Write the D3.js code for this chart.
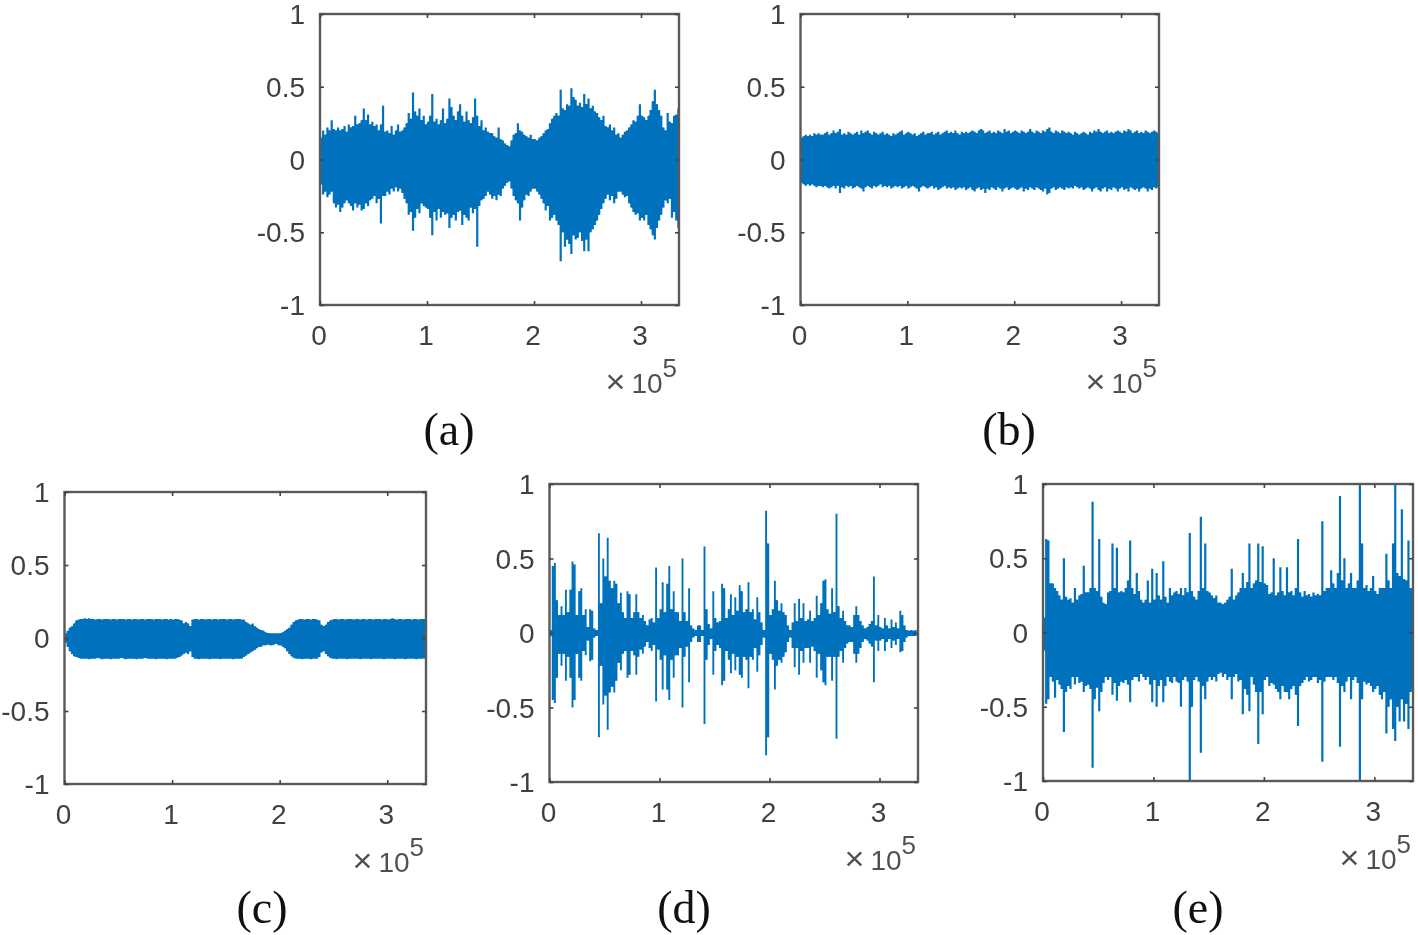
<!DOCTYPE html>
<html><head><meta charset="utf-8">
<script src="https://cdnjs.cloudflare.com/ajax/libs/d3/7.8.5/d3.min.js"></script>
<style>
html,body{margin:0;padding:0;background:#fff}
svg{display:block;filter:blur(0.6px)}
.tk{font-family:"Liberation Sans",Arial,sans-serif;font-size:28px;fill:#404040}
.cap{font-family:"Liberation Serif","Times New Roman",serif;font-size:46px;fill:#111}
</style></head><body>
<svg id="c" width="1418" height="935"></svg>
<script>
// each value is the peak of one column of the waveform; columns are 0.02 x 10^5 samples wide
const xTicks=[0,1,2,3], yTicks=[-1,-0.5,0,0.5,1], yTickLabels=["-1","-0.5","0","0.5","1"];
const captions=["(a)","(b)","(c)","(d)","(e)"];
const columnWidth=0.02;

const aUp=[.15,.2,.17,.22,.2,.27,.21,.2,.22,.2,
.21,.23,.19,.24,.22,.23,.3,.24,.25,.27,
.35,.27,.31,.24,.26,.23,.24,.2,.24,.37,
.19,.2,.18,.23,.17,.2,.24,.19,.2,.22,
.25,.32,.28,.46,.33,.3,.35,.27,.3,.24,
.26,.3,.45,.26,.28,.24,.27,.35,.25,.28,
.42,.36,.3,.27,.33,.38,.3,.26,.33,.27,
.25,.29,.42,.3,.23,.27,.2,.22,.19,.18,
.18,.16,.15,.22,.14,.13,.11,.1,.09,.13,
.17,.18,.25,.2,.19,.17,.16,.15,.17,.14,
.14,.13,.15,.16,.18,.2,.21,.25,.28,.3,
.32,.3,.48,.35,.34,.38,.37,.49,.43,.41,
.37,.39,.36,.45,.38,.42,.35,.37,.33,.32,
.29,.27,.3,.23,.22,.24,.2,.22,.17,.18,
.15,.17,.19,.2,.22,.24,.27,.26,.3,.38,
.3,.29,.27,.3,.34,.4,.48,.38,.34,.3,
.22,.2,.32,.26,.25,.3,.31,.35];
const aLo=[-.17,-.24,-.22,-.26,-.24,-.22,-.3,-.33,-.31,-.36,
-.33,-.3,-.28,-.3,-.32,-.35,-.3,-.33,-.31,-.35,
-.34,-.3,-.32,-.28,-.27,-.25,-.3,-.27,-.44,-.25,
-.25,-.22,-.24,-.2,-.22,-.19,-.22,-.2,-.23,-.27,
-.3,-.38,-.36,-.49,-.4,-.34,-.37,-.3,-.32,-.33,
-.34,-.4,-.52,-.36,-.42,-.34,-.4,-.36,-.38,-.37,
-.47,-.4,-.38,-.42,-.36,-.35,-.45,-.38,-.4,-.42,
-.33,-.37,-.34,-.6,-.32,-.28,-.27,-.25,-.22,-.24,
-.27,-.25,-.28,-.24,-.25,-.2,-.18,-.16,-.15,-.2,
-.25,-.28,-.3,-.42,-.33,-.28,-.24,-.25,-.22,-.2,
-.2,-.22,-.24,-.27,-.3,-.35,-.32,-.42,-.4,-.38,
-.42,-.45,-.7,-.5,-.6,-.55,-.58,-.65,-.52,-.55,
-.54,-.5,-.56,-.63,-.55,-.63,-.5,-.48,-.45,-.42,
-.38,-.34,-.3,-.27,-.24,-.28,-.25,-.3,-.27,-.22,
-.22,-.24,-.26,-.25,-.3,-.33,-.36,-.38,-.37,-.42,
-.4,-.42,-.38,-.45,-.48,-.52,-.55,-.47,-.42,-.38,
-.33,-.28,-.3,-.27,-.4,-.36,-.42,-.47];

const bUp=[.15,.16,.17,.16,.17,.16,.18,.17,.18,.17,
.17,.18,.19,.17,.18,.2,.18,.19,.21,.17,
.18,.17,.19,.18,.17,.18,.19,.17,.2,.18,
.19,.2,.18,.17,.19,.18,.17,.18,.19,.17,
.18,.17,.16,.18,.17,.18,.19,.2,.17,.18,
.19,.18,.17,.18,.16,.17,.18,.19,.17,.18,
.18,.19,.17,.18,.19,.17,.18,.19,.2,.18,
.19,.18,.2,.18,.17,.19,.18,.19,.18,.19,
.2,.19,.18,.2,.21,.2,.18,.19,.2,.18,
.19,.18,.2,.19,.18,.21,.19,.2,.18,.19,
.2,.19,.18,.2,.19,.18,.19,.21,.19,.18,
.2,.19,.18,.2,.19,.21,.22,.19,.18,.2,
.19,.18,.2,.19,.18,.19,.18,.17,.19,.18,
.17,.18,.19,.18,.17,.19,.18,.2,.19,.21,
.19,.18,.19,.2,.18,.19,.18,.19,.2,.19,
.18,.2,.19,.21,.2,.18,.19,.2,.18,.19,
.18,.2,.19,.18,.19,.2,.19,.18];
const bLo=[-.16,-.17,-.18,-.17,-.18,-.17,-.18,-.19,-.18,-.18,
-.19,-.18,-.19,-.2,-.19,-.18,-.2,-.18,-.23,-.19,
-.2,-.18,-.19,-.18,-.2,-.19,-.18,-.19,-.2,-.22,
-.19,-.18,-.19,-.2,-.18,-.19,-.18,-.17,-.19,-.18,
-.19,-.18,-.2,-.19,-.18,-.19,-.18,-.2,-.19,-.18,
-.2,-.19,-.18,-.19,-.2,-.22,-.19,-.18,-.19,-.2,
-.19,-.18,-.2,-.19,-.21,-.2,-.19,-.18,-.2,-.19,
-.2,-.19,-.21,-.2,-.19,-.2,-.19,-.21,-.2,-.19,
-.21,-.22,-.2,-.19,-.21,-.2,-.23,-.2,-.21,-.19,
-.2,-.21,-.19,-.2,-.22,-.2,-.19,-.21,-.2,-.19,
-.2,-.21,-.2,-.19,-.22,-.2,-.21,-.19,-.2,-.21,
-.19,-.2,-.21,-.22,-.2,-.24,-.23,-.2,-.19,-.21,
-.2,-.19,-.2,-.21,-.19,-.2,-.19,-.2,-.18,-.19,
-.2,-.19,-.21,-.2,-.19,-.2,-.22,-.2,-.19,-.21,
-.22,-.2,-.19,-.22,-.2,-.21,-.19,-.2,-.22,-.2,
-.19,-.21,-.2,-.22,-.19,-.2,-.21,-.2,-.22,-.2,
-.19,-.2,-.22,-.2,-.21,-.19,-.2,-.19];

const cUp=[.03,.05,.07,.08,.1,.12,.125,.13,.13,.135,
.13,.135,.13,.13,.125,.13,.13,.125,.13,.13,
.13,.125,.13,.13,.125,.13,.13,.13,.125,.13,
.13,.125,.13,.13,.125,.13,.13,.125,.13,.13,
.13,.125,.13,.13,.13,.125,.13,.13,.125,.13,
.125,.13,.13,.125,.12,.1,.11,.1,.08,.125,
.13,.13,.125,.13,.13,.125,.13,.13,.125,.13,
.13,.125,.13,.13,.13,.125,.13,.13,.125,.13,
.13,.13,.125,.125,.11,.1,.09,.1,.08,.07,
.06,.055,.05,.04,.035,.03,.03,.03,.03,.03,
.035,.04,.05,.06,.07,.09,.11,.12,.125,.13,
.13,.125,.13,.13,.125,.13,.13,.125,.12,.09,
.08,.09,.11,.12,.125,.13,.13,.125,.13,.13,
.125,.13,.13,.13,.125,.13,.13,.125,.13,.13,
.125,.13,.13,.125,.13,.13,.13,.125,.13,.13,
.125,.13,.135,.13,.125,.13,.13,.125,.13,.13,
.13,.125,.13,.13,.125,.13,.13,.13];
const cLo=[-.03,-.06,-.09,-.11,-.125,-.13,-.135,-.14,-.14,-.14,
-.14,-.145,-.14,-.14,-.14,-.135,-.14,-.145,-.14,-.14,
-.14,-.145,-.14,-.14,-.14,-.14,-.135,-.14,-.145,-.14,
-.14,-.14,-.14,-.145,-.14,-.14,-.14,-.135,-.14,-.14,
-.14,-.14,-.145,-.14,-.14,-.14,-.14,-.145,-.14,-.14,
-.14,-.14,-.135,-.13,-.12,-.11,-.1,-.11,-.09,-.13,
-.14,-.14,-.145,-.14,-.14,-.14,-.14,-.145,-.14,-.14,
-.14,-.14,-.145,-.14,-.14,-.14,-.14,-.14,-.145,-.14,
-.14,-.14,-.14,-.13,-.12,-.11,-.1,-.09,-.08,-.07,
-.06,-.06,-.05,-.05,-.045,-.05,-.05,-.045,-.04,-.05,
-.05,-.06,-.07,-.09,-.11,-.125,-.135,-.14,-.14,-.14,
-.145,-.14,-.14,-.14,-.145,-.14,-.14,-.14,-.13,-.1,
-.09,-.11,-.125,-.135,-.14,-.14,-.145,-.14,-.14,-.14,
-.14,-.145,-.14,-.14,-.14,-.14,-.14,-.145,-.14,-.14,
-.14,-.14,-.145,-.14,-.14,-.14,-.14,-.14,-.145,-.14,
-.14,-.14,-.14,-.145,-.14,-.14,-.14,-.14,-.145,-.14,
-.14,-.14,-.14,-.145,-.14,-.14,-.14,-.14];

const dUp=[.02,.45,.47,.22,.12,.18,.12,.29,.14,.29,
.48,.46,.12,.28,.3,.12,.16,.04,.16,.15,
.03,.02,.67,.2,.5,.38,.64,.35,.3,.35,
.33,.2,.27,.14,.1,.28,.26,.1,.14,.26,
.14,.1,.12,.08,.05,.09,.1,.07,.44,.1,
.16,.34,.14,.33,.45,.16,.28,.14,.14,.08,
.5,.14,.08,.3,.05,.03,.02,.05,.05,.02,
.58,.16,.06,.03,.28,.1,.07,.08,.33,.3,
.1,.16,.26,.12,.24,.15,.32,.28,.14,.16,
.34,.14,.16,.09,.24,.14,.07,.02,.82,.6,
.12,.16,.35,.22,.15,.2,.14,.12,.05,.02,
.07,.2,.08,.23,.1,.2,.08,.09,.15,.08,
.1,.25,.12,.2,.35,.36,.16,.13,.3,.14,
.8,.18,.1,.15,.08,.05,.05,.04,.12,.18,
.12,.08,.05,.03,.04,.06,.08,.38,.05,.12,
.04,.03,.1,.05,.03,.09,.04,.07,.03,.15,
.12,.05,.02,.015,.02,.015,.02,.015];
const dLo=[-.02,-.45,-.47,-.3,-.14,-.22,-.14,-.32,-.16,-.3,
-.5,-.45,-.14,-.3,-.32,-.12,-.15,-.05,-.19,-.18,
-.03,-.02,-.7,-.22,-.48,-.42,-.65,-.4,-.36,-.4,
-.32,-.2,-.25,-.14,-.12,-.3,-.28,-.12,-.15,-.28,
-.16,-.11,-.14,-.09,-.06,-.1,-.12,-.08,-.46,-.11,
-.18,-.38,-.15,-.38,-.45,-.18,-.3,-.15,-.15,-.1,
-.5,-.16,-.09,-.33,-.06,-.03,-.02,-.06,-.06,-.02,
-.61,-.18,-.08,-.04,-.28,-.12,-.08,-.1,-.35,-.32,
-.12,-.18,-.27,-.14,-.25,-.16,-.28,-.3,-.16,-.18,
-.37,-.16,-.18,-.1,-.26,-.15,-.08,-.03,-.82,-.7,
-.14,-.18,-.38,-.22,-.18,-.2,-.16,-.13,-.06,-.03,
-.1,-.23,-.1,-.28,-.12,-.2,-.1,-.1,-.2,-.09,
-.12,-.3,-.14,-.25,-.33,-.35,-.16,-.16,-.32,-.16,
-.71,-.16,-.12,-.2,-.1,-.07,-.06,-.06,-.14,-.2,
-.14,-.1,-.06,-.04,-.05,-.07,-.09,-.33,-.05,-.12,
-.05,-.04,-.12,-.06,-.04,-.1,-.05,-.08,-.04,-.13,
-.12,-.06,-.03,-.02,-.02,-.02,-.02,-.015];

const eUp=[.1,.63,.62,.33,.33,.3,.28,.25,.22,.5,
.24,.22,.23,.2,.3,.22,.25,.26,.45,.27,
.27,.3,.88,.3,.28,.63,.24,.2,.19,.27,
.28,.6,.3,.57,.27,.28,.27,.3,.35,.62,
.3,.26,.4,.28,.22,.2,.22,.35,.2,.43,
.22,.4,.25,.22,.48,.24,.2,.3,.25,.27,
.28,.26,.3,.25,.3,.27,.67,.28,.24,.22,
.28,.78,.3,.6,.28,.27,.25,.23,.25,.2,
.2,.19,.2,.22,.24,.43,.22,.25,.27,.3,
.4,.3,.34,.6,.3,.33,.35,.6,.34,.58,
.33,.32,.26,.27,.5,.25,.27,.44,.28,.25,
.44,.27,.28,.25,.3,.63,.27,.24,.28,.25,
.26,.24,.27,.25,.26,.25,.75,.28,.3,.3,
.42,.33,.3,.4,.92,.35,.5,.3,.33,.4,
.3,.3,.35,1,.6,.3,.32,.28,.3,.38,
.28,.26,.3,.3,.3,.53,.35,.3,.6,1,
.4,.38,.83,.36,.35,.62,.3,.3];
const eLo=[-.12,-.48,-.45,-.3,-.33,-.44,-.32,-.35,-.38,-.67,
-.4,-.36,-.38,-.3,-.35,-.3,-.34,-.33,-.4,-.36,
-.35,-.38,-.91,-.45,-.37,-.53,-.4,-.34,-.3,-.32,
-.3,-.42,-.34,-.46,-.36,-.33,-.34,-.32,-.35,-.47,
-.32,-.3,-.3,-.33,-.28,-.3,-.32,-.3,-.35,-.47,
-.32,-.5,-.36,-.32,-.47,-.36,-.3,-.33,-.34,-.3,
-.33,-.34,-.5,-.32,-.3,-.33,-1,-.5,-.32,-.3,
-.33,-.81,-.36,-.45,-.33,-.3,-.32,-.3,-.33,-.28,
-.27,-.3,-.28,-.32,-.3,-.45,-.3,-.28,-.33,-.32,
-.55,-.38,-.42,-.53,-.3,-.35,-.4,-.75,-.4,-.55,
-.32,-.3,-.36,-.34,-.35,-.38,-.4,-.45,-.36,-.4,
-.4,-.45,-.38,-.36,-.42,-.63,-.36,-.34,-.32,-.3,
-.33,-.32,-.3,-.3,-.34,-.32,-.87,-.33,-.3,-.3,
-.3,-.32,-.3,-.34,-.77,-.36,-.4,-.33,-.3,-.45,
-.32,-.3,-.34,-1,-.45,-.33,-.35,-.34,-.36,-.4,
-.38,-.36,-.42,-.45,-.4,-.68,-.5,-.45,-.65,-.73,
-.5,-.6,-.45,-.6,-.48,-.65,-.4,-.38];

const panels=[
 {l:320,r:679,t:14,b:305,xMax:3.355,up:aUp,lo:aLo,capX:449,capY:445},
 {l:800.5,r:1159,t:14,b:305,xMax:3.355,up:bUp,lo:bLo,capX:1009,capY:445},
 {l:64.5,r:426,t:492,b:784,xMax:3.36,up:cUp,lo:cLo,capX:262,capY:923},
 {l:549.5,r:918,t:484,b:782,xMax:3.35,up:dUp,lo:dLo,capX:684,capY:923},
 {l:1043,r:1413,t:484,b:781,xMax:3.35,up:eUp,lo:eLo,capX:1198,capY:923}
];
const svg=d3.select("#c");
const ink="#0072BD", box="#5a5a5a";
panels.forEach((p,i)=>{
  const x=d3.scaleLinear().domain([0,p.xMax]).range([p.l,p.r]);
  const y=d3.scaleLinear().domain([-1,1]).range([p.b,p.t]);
  const g=svg.append("g");
  const cols=p.up.map((u,k)=>({x:k*columnWidth,u,l:p.lo[k]}));
  // the waveform as one vertical stroke per column, drawn as a single path
  const seg=d3.line().x(d=>d[0]).y(d=>d[1]);
  // solid body: the running minimum of each neighbouring pair of columns, so no gaps show
  const body=cols.slice(0,-1).map((d,k)=>({x:d.x,u:Math.min(d.u,cols[k+1].u),l:Math.max(d.l,cols[k+1].l)}));
  g.append("path").attr("fill",ink)
    .attr("d",d3.area().x(d=>x(d.x)+1).y0(d=>y(d.l)).y1(d=>y(d.u)).curve(d3.curveStepAfter)(body));
  g.append("path").attr("fill","none").attr("stroke",ink).attr("stroke-width",i===3?1.9:2.2)
    .attr("d",cols.map(d=>seg([[x(d.x)+1,y(d.u)],[x(d.x)+1,y(d.l)]])).join(""));
  g.append("rect").attr("x",p.l).attr("y",p.t).attr("width",p.r-p.l).attr("height",p.b-p.t)
    .attr("fill","none").attr("stroke",box).attr("stroke-width",2.4);
  const ax=(gen,tx,ty)=>{const a=g.append("g").attr("transform",`translate(${tx},${ty})`).call(gen);
    a.select(".domain").remove();a.selectAll("line").attr("stroke","#444").attr("stroke-width",1.6);a.selectAll("text").remove();};
  ax(d3.axisBottom(x).tickValues(xTicks).tickSize(-4),0,p.b);
  ax(d3.axisTop(x).tickValues(xTicks).tickSize(-4),0,p.t);
  ax(d3.axisLeft(y).tickValues(yTicks).tickSize(-4),p.l,0);
  ax(d3.axisRight(y).tickValues(yTicks).tickSize(-4),p.r,0);
  g.selectAll("text.xt").data(xTicks).join("text").attr("class","tk xt").attr("text-anchor","middle")
    .attr("x",d=>x(d)-1).attr("y",p.b+40).text(d=>d);
  g.selectAll("text.yt").data(yTicks).join("text").attr("class","tk yt").attr("text-anchor","end")
    .attr("x",p.l-15).attr("y",d=>y(d)+10).text((d,k)=>yTickLabels[k]);
  g.append("text").attr("class","tk").attr("x",p.r-2).attr("y",p.b+88).attr("text-anchor","end")
    .style("fill","#505050").html('<tspan font-size="34" dy="0">×</tspan><tspan dx="6">10</tspan><tspan dy="-16" font-size="26">5</tspan>');
  svg.append("text").attr("class","cap").attr("x",p.capX).attr("y",p.capY).attr("text-anchor","middle").text(captions[i]);
});
</script>
</body></html>
